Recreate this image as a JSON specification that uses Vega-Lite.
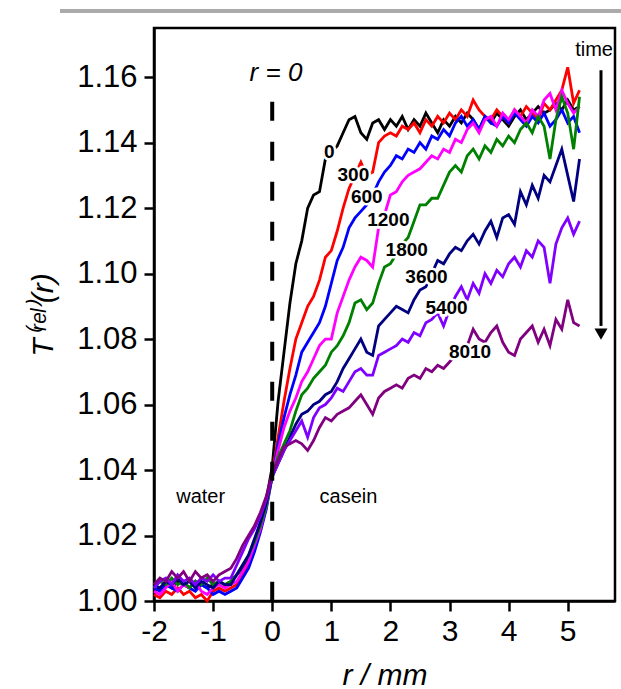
{
  "$schema": "https://vega.github.io/schema/vega-lite/v6.json",
  "width": 461,
  "height": 573,
  "autosize": "none",
  "padding": {"left": 154, "top": 28, "right": 6, "bottom": 88},
  "config": {"view": {"stroke": "black", "strokeWidth": 2.5}, "font": "Liberation Sans"},
  "datasets": {
    "curves": [
      {"x":-2.0,"t0":1.003,"t300":1.002,"t600":1.004,"t1200":1.003,"t1800":1.004,"t3600":1.005,"t5400":1.004,"t8010":1.005},
      {"x":-1.9,"t0":1.004,"t300":1.001,"t600":1.003,"t1200":1.002,"t1800":1.006,"t3600":1.004,"t5400":1.006,"t8010":1.007},
      {"x":-1.8,"t0":1.005,"t300":1.003,"t600":1.005,"t1200":1.004,"t1800":1.005,"t3600":1.006,"t5400":1.007,"t8010":1.006},
      {"x":-1.7,"t0":1.004,"t300":1.002,"t600":1.004,"t1200":1.006,"t1800":1.007,"t3600":1.005,"t5400":1.005,"t8010":1.009},
      {"x":-1.6,"t0":1.006,"t300":1.004,"t600":1.003,"t1200":1.003,"t1800":1.005,"t3600":1.007,"t5400":1.008,"t8010":1.007},
      {"x":-1.5,"t0":1.005,"t300":1.002,"t600":1.005,"t1200":1.005,"t1800":1.006,"t3600":1.005,"t5400":1.006,"t8010":1.009},
      {"x":-1.4,"t0":1.004,"t300":1.003,"t600":1.004,"t1200":1.004,"t1800":1.004,"t3600":1.006,"t5400":1.007,"t8010":1.006},
      {"x":-1.3,"t0":1.006,"t300":1.001,"t600":1.003,"t1200":1.006,"t1800":1.006,"t3600":1.004,"t5400":1.005,"t8010":1.009},
      {"x":-1.2,"t0":1.005,"t300":1.002,"t600":1.005,"t1200":1.003,"t1800":1.005,"t3600":1.006,"t5400":1.007,"t8010":1.007},
      {"x":-1.1,"t0":1.004,"t300":1.000,"t600":1.004,"t1200":1.002,"t1800":1.007,"t3600":1.005,"t5400":1.006,"t8010":1.008},
      {"x":-1.0,"t0":1.005,"t300":1.003,"t600":1.002,"t1200":1.004,"t1800":1.005,"t3600":1.004,"t5400":1.008,"t8010":1.006},
      {"x":-0.9,"t0":1.006,"t300":1.004,"t600":1.003,"t1200":1.005,"t1800":1.006,"t3600":1.006,"t5400":1.006,"t8010":1.008},
      {"x":-0.8,"t0":1.005,"t300":1.003,"t600":1.002,"t1200":1.004,"t1800":1.005,"t3600":1.005,"t5400":1.007,"t8010":1.009},
      {"x":-0.7,"t0":1.006,"t300":1.004,"t600":1.003,"t1200":1.005,"t1800":1.006,"t3600":1.005,"t5400":1.007,"t8010":1.010},
      {"x":-0.6,"t0":1.008,"t300":1.005,"t600":1.004,"t1200":1.006,"t1800":1.008,"t3600":1.008,"t5400":1.011,"t8010":1.013},
      {"x":-0.5,"t0":1.010,"t300":1.008,"t600":1.007,"t1200":1.009,"t1800":1.011,"t3600":1.011,"t5400":1.015,"t8010":1.017},
      {"x":-0.4,"t0":1.013,"t300":1.011,"t600":1.010,"t1200":1.012,"t1800":1.014,"t3600":1.014,"t5400":1.019,"t8010":1.020},
      {"x":-0.3,"t0":1.018,"t300":1.016,"t600":1.015,"t1200":1.017,"t1800":1.018,"t3600":1.019,"t5400":1.022,"t8010":1.023},
      {"x":-0.2,"t0":1.024,"t300":1.022,"t600":1.021,"t1200":1.022,"t1800":1.023,"t3600":1.024,"t5400":1.026,"t8010":1.027},
      {"x":-0.1,"t0":1.031,"t300":1.029,"t600":1.028,"t1200":1.029,"t1800":1.029,"t3600":1.030,"t5400":1.031,"t8010":1.032},
      {"x":0.0,"t0":1.041,"t300":1.039,"t600":1.038,"t1200":1.038,"t1800":1.038,"t3600":1.038,"t5400":1.038,"t8010":1.039},
      {"x":0.1,"t0":1.061,"t300":1.050,"t600":1.048,"t1200":1.046,"t1800":1.044,"t3600":1.042,"t5400":1.042,"t8010":1.043},
      {"x":0.2,"t0":1.076,"t300":1.061,"t600":1.056,"t1200":1.053,"t1800":1.048,"t3600":1.046,"t5400":1.046,"t8010":1.047},
      {"x":0.3,"t0":1.091,"t300":1.071,"t600":1.063,"t1200":1.058,"t1800":1.052,"t3600":1.050,"t5400":1.049,"t8010":1.048},
      {"x":0.4,"t0":1.103,"t300":1.080,"t600":1.069,"t1200":1.062,"t1800":1.058,"t3600":1.054,"t5400":1.052,"t8010":1.049},
      {"x":0.5,"t0":1.110,"t300":1.085,"t600":1.076,"t1200":1.067,"t1800":1.063,"t3600":1.057,"t5400":1.055,"t8010":1.048},
      {"x":0.6,"t0":1.120,"t300":1.090,"t600":1.079,"t1200":1.070,"t1800":1.065,"t3600":1.058,"t5400":1.050,"t8010":1.046},
      {"x":0.7,"t0":1.124,"t300":1.093,"t600":1.082,"t1200":1.074,"t1800":1.068,"t3600":1.060,"t5400":1.056,"t8010":1.049},
      {"x":0.8,"t0":1.125,"t300":1.098,"t600":1.085,"t1200":1.078,"t1800":1.070,"t3600":1.061,"t5400":1.059,"t8010":1.053},
      {"x":0.9,"t0":1.135,"t300":1.105,"t600":1.090,"t1200":1.080,"t1800":1.072,"t3600":1.063,"t5400":1.060,"t8010":1.056},
      {"x":1.0,"t0":1.137,"t300":1.107,"t600":1.097,"t1200":1.080,"t1800":1.076,"t3600":1.064,"t5400":1.062,"t8010":1.055},
      {"x":1.1,"t0":1.139,"t300":1.113,"t600":1.104,"t1200":1.088,"t1800":1.078,"t3600":1.067,"t5400":1.065,"t8010":1.057},
      {"x":1.2,"t0":1.143,"t300":1.120,"t600":1.108,"t1200":1.093,"t1800":1.081,"t3600":1.071,"t5400":1.064,"t8010":1.058},
      {"x":1.3,"t0":1.147,"t300":1.126,"t600":1.114,"t1200":1.098,"t1800":1.085,"t3600":1.074,"t5400":1.067,"t8010":1.059},
      {"x":1.4,"t0":1.148,"t300":1.130,"t600":1.117,"t1200":1.102,"t1800":1.091,"t3600":1.077,"t5400":1.070,"t8010":1.061},
      {"x":1.5,"t0":1.143,"t300":1.134,"t600":1.119,"t1200":1.105,"t1800":1.092,"t3600":1.080,"t5400":1.071,"t8010":1.063},
      {"x":1.6,"t0":1.141,"t300":1.130,"t600":1.121,"t1200":1.104,"t1800":1.089,"t3600":1.076,"t5400":1.069,"t8010":1.060},
      {"x":1.7,"t0":1.146,"t300":1.131,"t600":1.124,"t1200":1.102,"t1800":1.091,"t3600":1.075,"t5400":1.069,"t8010":1.057},
      {"x":1.8,"t0":1.147,"t300":1.140,"t600":1.128,"t1200":1.114,"t1800":1.097,"t3600":1.084,"t5400":1.075,"t8010":1.062},
      {"x":1.9,"t0":1.144,"t300":1.142,"t600":1.131,"t1200":1.118,"t1800":1.102,"t3600":1.086,"t5400":1.076,"t8010":1.064},
      {"x":2.0,"t0":1.147,"t300":1.143,"t600":1.133,"t1200":1.124,"t1800":1.103,"t3600":1.088,"t5400":1.077,"t8010":1.065},
      {"x":2.1,"t0":1.145,"t300":1.142,"t600":1.136,"t1200":1.125,"t1800":1.106,"t3600":1.090,"t5400":1.078,"t8010":1.066},
      {"x":2.2,"t0":1.148,"t300":1.145,"t600":1.135,"t1200":1.128,"t1800":1.109,"t3600":1.089,"t5400":1.080,"t8010":1.065},
      {"x":2.3,"t0":1.144,"t300":1.144,"t600":1.138,"t1200":1.130,"t1800":1.111,"t3600":1.088,"t5400":1.079,"t8010":1.068},
      {"x":2.4,"t0":1.147,"t300":1.146,"t600":1.137,"t1200":1.131,"t1800":1.116,"t3600":1.092,"t5400":1.082,"t8010":1.069},
      {"x":2.5,"t0":1.145,"t300":1.143,"t600":1.140,"t1200":1.132,"t1800":1.121,"t3600":1.095,"t5400":1.081,"t8010":1.068},
      {"x":2.6,"t0":1.149,"t300":1.147,"t600":1.138,"t1200":1.134,"t1800":1.121,"t3600":1.096,"t5400":1.085,"t8010":1.071},
      {"x":2.7,"t0":1.146,"t300":1.145,"t600":1.142,"t1200":1.136,"t1800":1.123,"t3600":1.100,"t5400":1.086,"t8010":1.070},
      {"x":2.8,"t0":1.143,"t300":1.148,"t600":1.141,"t1200":1.135,"t1800":1.123,"t3600":1.104,"t5400":1.088,"t8010":1.072},
      {"x":2.9,"t0":1.147,"t300":1.146,"t600":1.144,"t1200":1.138,"t1800":1.127,"t3600":1.103,"t5400":1.084,"t8010":1.071},
      {"x":3.0,"t0":1.145,"t300":1.149,"t600":1.142,"t1200":1.137,"t1800":1.131,"t3600":1.106,"t5400":1.089,"t8010":1.073},
      {"x":3.1,"t0":1.148,"t300":1.147,"t600":1.146,"t1200":1.141,"t1800":1.133,"t3600":1.108,"t5400":1.093,"t8010":1.075},
      {"x":3.2,"t0":1.146,"t300":1.150,"t600":1.148,"t1200":1.140,"t1800":1.131,"t3600":1.107,"t5400":1.096,"t8010":1.076},
      {"x":3.3,"t0":1.149,"t300":1.148,"t600":1.145,"t1200":1.144,"t1800":1.136,"t3600":1.110,"t5400":1.092,"t8010":1.078},
      {"x":3.4,"t0":1.147,"t300":1.153,"t600":1.147,"t1200":1.146,"t1800":1.138,"t3600":1.112,"t5400":1.097,"t8010":1.083},
      {"x":3.5,"t0":1.144,"t300":1.150,"t600":1.144,"t1200":1.143,"t1800":1.135,"t3600":1.109,"t5400":1.094,"t8010":1.080},
      {"x":3.6,"t0":1.148,"t300":1.148,"t600":1.148,"t1200":1.147,"t1800":1.139,"t3600":1.113,"t5400":1.100,"t8010":1.079},
      {"x":3.7,"t0":1.146,"t300":1.147,"t600":1.146,"t1200":1.148,"t1800":1.137,"t3600":1.116,"t5400":1.097,"t8010":1.082},
      {"x":3.8,"t0":1.149,"t300":1.150,"t600":1.145,"t1200":1.145,"t1800":1.141,"t3600":1.111,"t5400":1.101,"t8010":1.084},
      {"x":3.9,"t0":1.147,"t300":1.148,"t600":1.148,"t1200":1.149,"t1800":1.139,"t3600":1.117,"t5400":1.099,"t8010":1.079},
      {"x":4.0,"t0":1.145,"t300":1.146,"t600":1.146,"t1200":1.147,"t1800":1.142,"t3600":1.118,"t5400":1.103,"t8010":1.076},
      {"x":4.1,"t0":1.148,"t300":1.150,"t600":1.149,"t1200":1.150,"t1800":1.140,"t3600":1.115,"t5400":1.105,"t8010":1.075},
      {"x":4.2,"t0":1.150,"t300":1.148,"t600":1.147,"t1200":1.148,"t1800":1.144,"t3600":1.125,"t5400":1.102,"t8010":1.080},
      {"x":4.3,"t0":1.147,"t300":1.151,"t600":1.145,"t1200":1.146,"t1800":1.146,"t3600":1.121,"t5400":1.107,"t8010":1.082},
      {"x":4.4,"t0":1.149,"t300":1.149,"t600":1.148,"t1200":1.150,"t1800":1.143,"t3600":1.127,"t5400":1.105,"t8010":1.084},
      {"x":4.5,"t0":1.151,"t300":1.147,"t600":1.146,"t1200":1.148,"t1800":1.148,"t3600":1.123,"t5400":1.110,"t8010":1.079},
      {"x":4.6,"t0":1.149,"t300":1.152,"t600":1.149,"t1200":1.153,"t1800":1.145,"t3600":1.130,"t5400":1.108,"t8010":1.083},
      {"x":4.7,"t0":1.150,"t300":1.150,"t600":1.145,"t1200":1.155,"t1800":1.135,"t3600":1.128,"t5400":1.097,"t8010":1.078},
      {"x":4.8,"t0":1.152,"t300":1.153,"t600":1.147,"t1200":1.150,"t1800":1.147,"t3600":1.133,"t5400":1.109,"t8010":1.086},
      {"x":4.9,"t0":1.150,"t300":1.156,"t600":1.150,"t1200":1.156,"t1800":1.154,"t3600":1.138,"t5400":1.114,"t8010":1.083},
      {"x":5.0,"t0":1.153,"t300":1.163,"t600":1.146,"t1200":1.152,"t1800":1.149,"t3600":1.130,"t5400":1.117,"t8010":1.092},
      {"x":5.1,"t0":1.150,"t300":1.152,"t600":1.148,"t1200":1.149,"t1800":1.138,"t3600":1.122,"t5400":1.112,"t8010":1.085},
      {"x":5.2,"t0":1.151,"t300":1.156,"t600":1.143,"t1200":1.151,"t1800":1.154,"t3600":1.135,"t5400":1.116,"t8010":1.084}
    ],
    "labels": [
      {"lab":"0","x":0.967,"y":1.1372},
      {"lab":"300","x":1.373,"y":1.1300},
      {"lab":"600","x":1.60,"y":1.1235},
      {"lab":"1200","x":1.965,"y":1.1163},
      {"lab":"1800","x":2.276,"y":1.1072},
      {"lab":"3600","x":2.61,"y":1.0990},
      {"lab":"5400","x":2.95,"y":1.0894},
      {"lab":"8010","x":3.347,"y":1.0761}
    ]
  },
  "layer": [
    {
      "data": {"name": "curves"},
      "transform": [{"fold": ["t0","t300","t600","t1200","t1800","t3600","t5400","t8010"], "as": ["series","T"]}],
      "mark": {"type": "line", "strokeWidth": 2.8},
      "encoding": {
        "x": {
          "field": "x", "type": "quantitative",
          "scale": {"domain": [-2, 5.8], "nice": false, "zero": false},
          "axis": {
            "values": [-2,-1.5,-1,-0.5,0,0.5,1,1.5,2,2.5,3,3.5,4,4.5,5,5.5],
            "labelExpr": "datum.value % 1 === 0 ? toString(datum.value) : ''",
            "tickSize": {"condition": {"test": "datum.value % 1 === 0", "value": 10}, "value": 6},
            "tickWidth": 2.5, "tickColor": "black",
            "domainColor": "black", "domainWidth": 2.5,
            "labelFontSize": 30, "labelColor": "black", "labelPadding": 5,
            "labelFlush": false, "labelOverlap": false, "grid": false,
            "title": "r / mm", "titleFontSize": 30, "titleFontStyle": "italic",
            "titleFontWeight": "normal", "titleColor": "black", "titlePadding": 14
          }
        },
        "y": {
          "field": "T", "type": "quantitative",
          "scale": {"domain": [1.0, 1.175], "nice": false, "zero": false},
          "axis": {
            "values": [1.00,1.01,1.02,1.03,1.04,1.05,1.06,1.07,1.08,1.09,1.10,1.11,1.12,1.13,1.14,1.15,1.16,1.17],
            "labelExpr": "round(datum.value*100) % 2 === 0 ? format(datum.value, '.2f') : ''",
            "tickSize": {"condition": {"test": "round(datum.value*100) % 2 === 0", "value": 10}, "value": 6},
            "tickWidth": 2.5, "tickColor": "black",
            "domainColor": "black", "domainWidth": 2.5,
            "labelFontSize": 31, "labelColor": "black", "labelPadding": 7,
            "labelOverlap": false, "grid": false,
            "title": "T⁽ʳᵉˡ⁾(r)", "titleFontSize": 30, "titleFontStyle": "italic",
            "titleFontWeight": "normal", "titleColor": "black", "titlePadding": 18
          }
        },
        "color": {
          "field": "series", "type": "nominal",
          "scale": {
            "domain": ["t0","t300","t600","t1200","t1800","t3600","t5400","t8010"],
            "range": ["#000000","#ff0000","#0000ff","#ff00ff","#008000","#000080","#8000ff","#800080"]
          },
          "legend": null
        }
      }
    },
    {
      "data": {"values": [{"x": -3.59, "x2": 5.9, "y": 1.1802}]},
      "mark": {"type": "rule", "color": "#aaaaaa", "strokeWidth": 4},
      "encoding": {
        "x": {"field": "x", "type": "quantitative"},
        "x2": {"field": "x2"},
        "y": {"field": "y", "type": "quantitative"}
      }
    },
    {
      "data": {"values": [{"x": 0, "y": 1.1525, "y2": 1.0}]},
      "mark": {"type": "rule", "color": "black", "strokeWidth": 4, "strokeDash": [19, 21]},
      "encoding": {
        "x": {"field": "x", "type": "quantitative"},
        "y": {"field": "y", "type": "quantitative"},
        "y2": {"field": "y2"}
      }
    },
    {
      "data": {"name": "labels"},
      "mark": {"type": "text", "fontSize": 19, "fontWeight": "bold", "stroke": "white", "strokeWidth": 5, "fill": "white", "align": "center", "baseline": "middle"},
      "encoding": {
        "x": {"field": "x", "type": "quantitative"},
        "y": {"field": "y", "type": "quantitative"},
        "text": {"field": "lab"}
      }
    },
    {
      "data": {"name": "labels"},
      "mark": {"type": "text", "fontSize": 19, "fontWeight": "bold", "color": "black", "align": "center", "baseline": "middle"},
      "encoding": {
        "x": {"field": "x", "type": "quantitative"},
        "y": {"field": "y", "type": "quantitative"},
        "text": {"field": "lab"}
      }
    },
    {
      "data": {"values": [{"t": "r = 0", "x": 0.064, "y": 1.1612}]},
      "mark": {"type": "text", "fontSize": 26, "fontStyle": "italic", "color": "black", "align": "center", "baseline": "middle"},
      "encoding": {
        "x": {"field": "x", "type": "quantitative"},
        "y": {"field": "y", "type": "quantitative"},
        "text": {"field": "t"}
      }
    },
    {
      "data": {"values": [{"t": "water", "x": -1.21, "y": 1.0318}, {"t": "casein", "x": 1.29, "y": 1.0318}, {"t": "time", "x": 5.445, "y": 1.1682}]},
      "mark": {"type": "text", "fontSize": 20, "color": "black", "align": "center", "baseline": "middle"},
      "encoding": {
        "x": {"field": "x", "type": "quantitative"},
        "y": {"field": "y", "type": "quantitative"},
        "text": {"field": "t"}
      }
    },
    {
      "data": {"values": [{"x": 5.563, "y": 1.1621, "y2": 1.084}]},
      "mark": {"type": "rule", "color": "black", "strokeWidth": 3},
      "encoding": {
        "x": {"field": "x", "type": "quantitative"},
        "y": {"field": "y", "type": "quantitative"},
        "y2": {"field": "y2"}
      }
    },
    {
      "data": {"values": [{"x": 5.563, "y": 1.0815}]},
      "mark": {"type": "point", "shape": "triangle-down", "filled": true, "color": "black", "size": 170, "opacity": 1},
      "encoding": {
        "x": {"field": "x", "type": "quantitative"},
        "y": {"field": "y", "type": "quantitative"}
      }
    }
  ]
}
